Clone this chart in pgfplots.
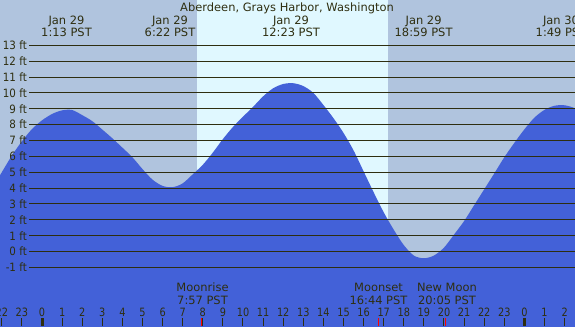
\documentclass[border=0pt]{standalone}
\usepackage{pgfplots}
\pgfplotsset{compat=1.18}
\usepackage{fontspec}
\setmainfont{DejaVu Sans}
\definecolor{night}{HTML}{B0C4DE}
\definecolor{day}{HTML}{E0F8FF}
\definecolor{tideblue}{HTML}{4361D8}
\definecolor{ink}{HTML}{2E2E10}
\begin{document}
\begin{tikzpicture}[x=1bp,y=1bp,every node/.style={font=\fontsize{11.5}{13}\selectfont,text=ink,inner sep=0pt}]
\begin{axis}[at={(0,0)},anchor=south west,scale only axis,width=575bp,height=326bp,
  hide axis,xmin=-2.09,xmax=26.52,ymin=-4.69,ymax=15.854,clip=true]
\fill[night] (axis cs:-2.09,-4.69) rectangle (axis cs:26.52,15.854);
\fill[day] (axis cs:7.696,-4.69) rectangle (axis cs:17.214,15.854);
\addplot[fill=tideblue,draw=none,smooth] coordinates {
(-3.0,-6) (-3.0,2.9) (-2.5,3.95) (-2.0,5.0) (-1.5,6.05) (-1.0,6.95) (-0.5,7.72)
(0.0,8.27) (0.5,8.67) (1.0,8.9) (1.5,8.92) (2.0,8.6) (2.5,8.22) (3.0,7.69)
(3.5,7.14) (4.0,6.55) (4.5,5.94) (5.0,5.2) (5.5,4.53) (6.0,4.14) (6.5,4.06)
(7.0,4.30) (7.5,4.87) (8.0,5.47) (8.5,6.24) (9.0,7.09) (9.5,7.85) (10.0,8.5)
(10.5,9.12) (11.0,9.78) (11.5,10.29) (12.0,10.56) (12.5,10.61) (13.0,10.43)
(13.5,10.0) (14.0,9.24) (14.5,8.41) (15.0,7.48) (15.5,6.38) (16.0,5.06)
(16.5,3.74) (17.0,2.48) (17.5,1.38) (18.0,0.41) (18.5,-0.25) (19.0,-0.42)
(19.5,-0.25) (20.0,0.25) (20.5,1.07) (21.0,1.92) (21.5,2.92) (22.0,3.92)
(22.5,4.92) (23.0,5.94) (23.5,6.85) (24.0,7.7) (24.5,8.44) (25.0,8.93)
(25.5,9.19) (26.0,9.22) (26.5,9.04) (27.0,8.64) (27.5,8.2) (27.5,-6)
};
\pgfplotsinvokeforeach{-1,...,13}{
  \draw[ink,line width=1bp] (axis cs:-0.647,#1) -- (axis cs:26.52,#1);
}
\pgfplotsinvokeforeach{-2,...,26}{
  \draw[ink,line width=1bp] (axis cs:#1,-4.69) -- (axis cs:#1,-4.18);
}
\draw[ink,line width=3bp] (axis cs:0,-4.69) -- (axis cs:0,-4.18);
\draw[ink,line width=3bp] (axis cs:24,-4.69) -- (axis cs:24,-4.18);
\draw[red,line width=1bp] (axis cs:7.95,-4.69) -- (axis cs:7.95,-4.18);
\draw[red,line width=1bp] (axis cs:16.733,-4.69) -- (axis cs:16.733,-4.18);
\draw[red,line width=1bp] (axis cs:20.083,-4.69) -- (axis cs:20.083,-4.18);
\end{axis}
\begin{scope}
\clip (0,0) rectangle (575,326);
% left labels
\foreach \v in {-1,...,13}{
  \node[anchor=east] at (27,{326-(45.3+(13-\v)*15.87)}) {\scalebox{0.9}[1]{\v\ ft}};
}
% hour labels
\foreach \h in {-2,...,26}{
  \pgfmathtruncatemacro\lab{mod(\h+24,24)}
  \node[anchor=base] at ({42+20.1*\h},10) {\scalebox{0.85}[1]{\lab}};
}
% title
\node[anchor=base] at (287,315) {Aberdeen, Grays Harbor, Washington};
% tide extremes
\node[anchor=base] at (66.5,302) {Jan 29};
\node[anchor=base] at (66.5,290) {1:13 PST};
\node[anchor=base] at (170,302) {Jan 29};
\node[anchor=base] at (170,290) {6:22 PST};
\node[anchor=base] at (291,302) {Jan 29};
\node[anchor=base] at (291,290) {12:23 PST};
\node[anchor=base] at (423.6,302) {Jan 29};
\node[anchor=base] at (423.6,290) {18:59 PST};
\node[anchor=base] at (561,302) {Jan 30};
\node[anchor=base] at (561,290) {1:49 PST};
% moon
\node[anchor=base] at (202.5,34.3) {Moonrise};
\node[anchor=base] at (202.5,22) {7:57 PST};
\node[anchor=base] at (378.5,34.3) {Moonset};
\node[anchor=base] at (378.5,22) {16:44 PST};
\node[anchor=base] at (447,34.3) {New Moon};
\node[anchor=base] at (447,22) {20:05 PST};
\end{scope}
\pgfresetboundingbox
\useasboundingbox (0,0) rectangle (575,326);
\end{tikzpicture}
\end{document}
